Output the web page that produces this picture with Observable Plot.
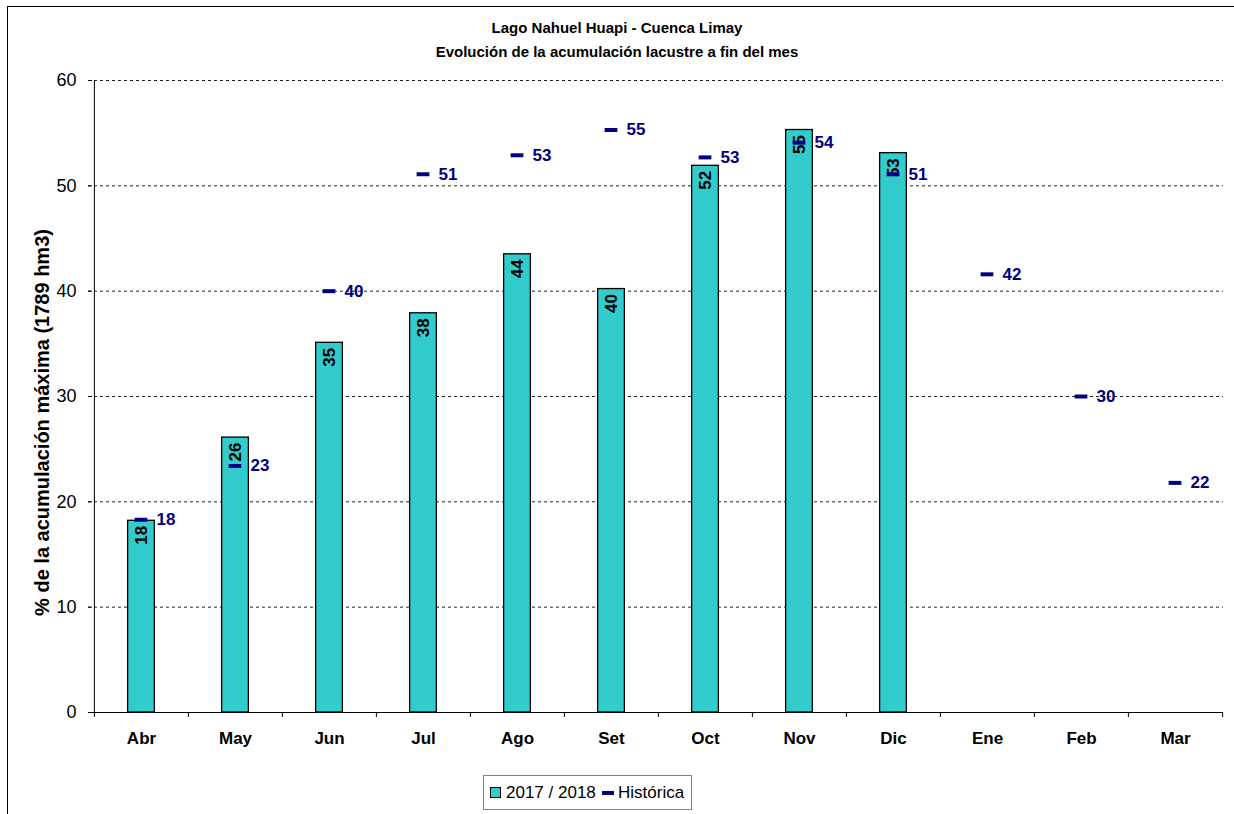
<!DOCTYPE html>
<html><head><meta charset="utf-8">
<script src="https://cdn.jsdelivr.net/npm/d3@7"></script>
<script src="https://cdn.jsdelivr.net/npm/@observablehq/plot@0.6"></script>
<style>
body{margin:0;width:1234px;height:814px;overflow:hidden;background:#fff;font-family:"Liberation Sans",Arial,sans-serif;position:relative}
#frame{position:absolute;left:7px;top:6px;width:1300px;height:900px;border:1.5px solid #000;}
#title{position:absolute;top:16px;left:0;width:1234px;text-align:center;font-weight:bold;font-size:15px;line-height:24px;color:#000}
#chart{position:absolute;left:0;top:66px}
#legend{position:absolute;left:483px;top:775px;width:209px;height:35px;border:1px solid #808080;box-sizing:border-box;font-size:17px;color:#000}
#legend .sw{position:absolute;left:6px;top:11px;width:11px;height:11px;background:#33CCCC;border:1px solid #000;box-sizing:border-box}
#legend .t1{position:absolute;left:22px;top:7px;line-height:20px}
#legend .dash{position:absolute;left:118px;top:15px;width:12px;height:4px;background:#000080}
#legend .t2{position:absolute;left:134px;top:7px;line-height:20px}
</style></head>
<body>
<div id="frame"></div>
<div id="title">Lago Nahuel Huapi - Cuenca Limay<br>Evolución de la acumulación lacustre a fin del mes</div>
<div id="chart"></div>
<div id="legend"><div class="sw"></div><div class="t1">2017 / 2018</div><div class="dash"></div><div class="t2">Histórica</div></div>
<script>
const months = ["Abr","May","Jun","Jul","Ago","Set","Oct","Nov","Dic","Ene","Feb","Mar"];
const actual2017 = [18.2, 26.1, 35.1, 37.9, 43.5, 40.2, 51.9, 55.3, 53.1];
const historica = [18.3, 23.4, 40.0, 51.1, 52.9, 55.3, 52.7, 54.1, 51.1, 41.6, 30.0, 21.8];
const yTicks = [0, 10, 20, 30, 40, 50, 60];
const yLabel = "% de la acumulación máxima (1789 hm3)";

const barData = actual2017.map((v, i) => ({month: months[i], value: v}));
const histData = historica.map((v, i) => ({month: months[i], value: v}));

const W = 1234, H = 700, mL = 92, mR = 11, mT = 14, mB = 54;
const bw = (W - mL - mR) / months.length;
const barInset = (bw - 27) / 2;
const tickInset = (bw - 13) / 2;

const chart = Plot.plot({
  width: W, height: H,
  marginLeft: mL, marginRight: mR, marginTop: mT, marginBottom: mB,
  style: {fontFamily: '"Liberation Sans", Arial, sans-serif', color: "#000", background: "transparent"},
  x: {type: "band", domain: months, padding: 0, axis: null},
  y: {domain: [0, 60], axis: null},
  marks: [
    Plot.ruleY(yTicks.filter(d => d > 0), {y: d => d, stroke: "#222", strokeWidth: 1, strokeDasharray: "3,3", insetLeft: -4}),
    Plot.axisY({ticks: yTicks, tickSize: 4, tickPadding: 12, fontSize: 18, label: null, tickFormat: d => d}),
    Plot.ruleX([months[0]], {x: d => d, y1: 0, y2: 60, dx: -bw / 2, stroke: "#000"}),
    Plot.ruleY([0], {stroke: "#000"}),
    Plot.ruleX(months, {x: d => d, y1: 0, y2: 0, insetBottom: -5, dx: -bw / 2, stroke: "#000"}),
    Plot.ruleX([months[months.length - 1]], {x: d => d, y1: 0, y2: 0, insetBottom: -5, dx: bw / 2, stroke: "#000"}),
    Plot.axisX({tickSize: 0, tickPadding: 19, fontSize: 17, fontWeight: "bold", label: null}),
    Plot.text([yLabel], {frameAnchor: "left", textAnchor: "middle", lineAnchor: "middle", rotate: -90, dx: -50, dy: 26, fontSize: 20, fontWeight: "bold", fill: "#000"}),
    Plot.barY(barData, {x: "month", y: "value", fill: "#33CCCC", stroke: "#000", strokeWidth: 1.3, insetLeft: barInset, insetRight: barInset}),
    Plot.text(barData, {x: "month", y: "value", text: d => Math.round(d.value), rotate: -90, textAnchor: "end", lineAnchor: "middle", dy: 5, fontSize: 17, fontWeight: "bold", fill: "#000"}),
    Plot.tickY(histData, {x: "month", y: "value", stroke: "#000080", strokeWidth: 4, insetLeft: tickInset, insetRight: tickInset}),
    Plot.text(histData, {x: "month", y: "value", text: d => Math.round(d.value), dx: 15, textAnchor: "start", fontSize: 17, fontWeight: "bold", fill: "#000080"})
  ]
});
document.getElementById("chart").appendChild(chart);
</script>
</body></html>
